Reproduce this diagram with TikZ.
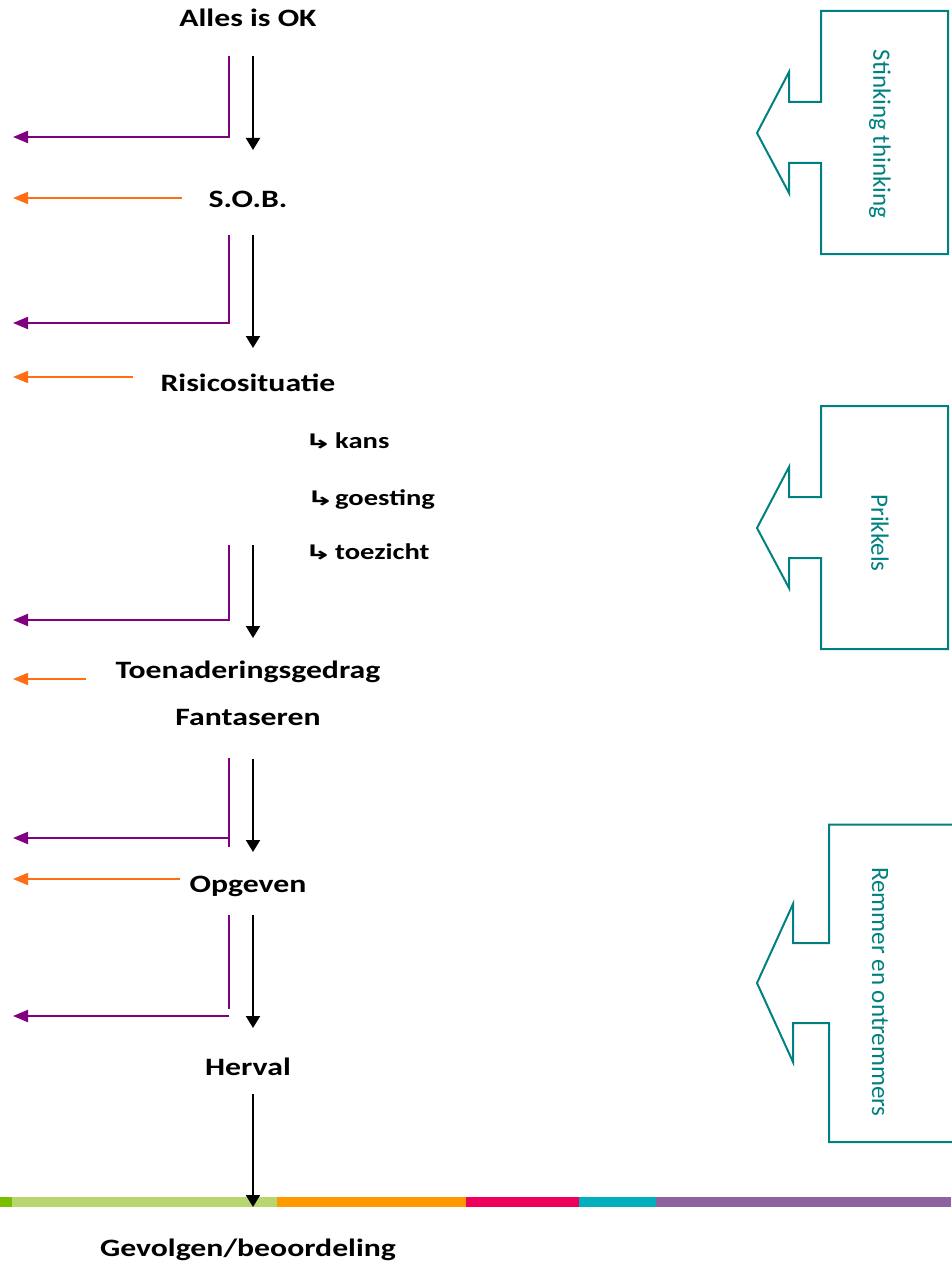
\documentclass[tikz,border=0pt]{standalone}
\usepackage{fontspec}
\usetikzlibrary{arrows.meta}
\newfontfamily\lblfont{Carlito}[FakeStretch=1.27]
\newfontfamily\callfont{Carlito}
\newfontfamily\dvfont{DejaVu Sans}[FakeStretch=1.7]
\definecolor{cpurple}{RGB}{128,0,128}
\definecolor{corange}{RGB}{255,110,20}
\definecolor{cteal}{RGB}{0,128,128}
\definecolor{bdkgreen}{RGB}{122,190,0}
\definecolor{bltgreen}{RGB}{183,214,112}
\definecolor{borange}{RGB}{255,153,0}
\definecolor{bpink}{RGB}{236,0,92}
\definecolor{bcyan}{RGB}{0,174,190}
\definecolor{bpurple}{RGB}{142,98,160}
\newcommand{\hookarr}{{\dvfont\bfseries\fontsize{20}{22}\selectfont ↳}}
\tikzset{
  lbl/.style={font=\lblfont\bfseries\fontsize{25}{30}\selectfont, inner sep=0pt, anchor=base},
  sublbl/.style={font=\lblfont\bfseries\fontsize{22.5}{27}\selectfont, inner sep=0pt, anchor=base west},
  calltext/.style={font=\callfont\fontsize{25}{30}\selectfont, text=cteal, rotate=-90, inner sep=0pt},
  flow/.style={draw=black, line width=2pt, -{Triangle[length=12pt,width=14pt]}},
  exitline/.style={draw=cpurple, line width=2pt},
  exitarrow/.style={draw=cpurple, line width=2pt, -{Triangle[length=15pt,width=12pt]}},
  backarrow/.style={draw=corange, line width=1.6pt, -{Triangle[length=15pt,width=12pt]}},
  callout/.style={draw=cteal, line width=2pt, line join=miter},
}
\begin{document}
\begin{tikzpicture}[x=1pt,y=-1pt]
\useasboundingbox (0,0) rectangle (951,1265);
% bottom bar
\fill[bdkgreen] (0,1197) rectangle (12,1207);
\fill[bltgreen] (12,1197) rectangle (277,1207);
\fill[borange] (277,1197) rectangle (466,1207);
\fill[bpink] (466,1197) rectangle (579,1207);
\fill[bcyan] (579,1197) rectangle (656,1207);
\fill[bpurple] (656,1197) rectangle (951,1207);

% labels
\node[lbl] (ok) at (248,27) {Alles is OK};
\node[lbl] (sob) at (248,208) {S.O.B.};
\node[lbl] (risico) at (248,391) {Risicosituatie};
\node[sublbl] (kans) at (304,448) {\makebox[31pt][l]{\hookarr}kans};
\node[sublbl] (goesting) at (306,505) {\makebox[29pt][l]{\hookarr}goesting};
\node[sublbl] (toezicht) at (304,559) {\makebox[31pt][l]{\hookarr}toezicht};
\node[lbl] (toen) at (248,678) {Toenaderingsgedrag};
\node[lbl] (fant) at (248,725) {Fantaseren};
\node[lbl] (opg) at (248,892) {Opgeven};
\node[lbl] (herval) at (248,1075) {Herval};
\node[lbl] (gevolg) at (248,1256) {Gevolgen/beoordeling};

% black flow arrows
\coordinate (b1s) at (253,56);   \coordinate (b1e) at (253,150);
\coordinate (b2s) at (253,235);  \coordinate (b2e) at (253,348);
\coordinate (b3s) at (253,545);  \coordinate (b3e) at (253,638);
\coordinate (b4s) at (253,759);  \coordinate (b4e) at (253,852);
\coordinate (b5s) at (253,915);  \coordinate (b5e) at (253,1028);
\coordinate (b6s) at (253,1094); \coordinate (b6e) at (253,1207);
\draw[flow] (b1s) -- (b1e);
\draw[flow] (b2s) -- (b2e);
\draw[flow] (b3s) -- (b3e);
\draw[flow] (b4s) -- (b4e);
\draw[flow] (b5s) -- (b5e);
\draw[flow] (b6s) -- (b6e);

% purple exits
\coordinate (p1s) at (229,56);  \coordinate (p1c) at (229,137); \coordinate (p1e) at (13,137);
\coordinate (p2s) at (229,235); \coordinate (p2c) at (229,323); \coordinate (p2e) at (13,323);
\coordinate (p3s) at (229,545); \coordinate (p3c) at (229,620); \coordinate (p3e) at (13,620);
\coordinate (p4s) at (229,758); \coordinate (p4b) at (229,847); \coordinate (p4c) at (229,838); \coordinate (p4e) at (13,838);
\coordinate (p5s) at (229,915); \coordinate (p5b) at (229,1009); \coordinate (p5c) at (229,1016); \coordinate (p5e) at (13,1016);
\draw[exitarrow] (p1s) -- (p1c) -- (p1e);
\draw[exitarrow] (p2s) -- (p2c) -- (p2e);
\draw[exitarrow] (p3s) -- (p3c) -- (p3e);
\draw[exitline] (p4s) -- (p4b);
\draw[exitarrow] (p4c) -- (p4e);
\draw[exitline] (p5s) -- (p5b);
\draw[exitarrow] (p5c) -- (p5e);

% orange back arrows
\coordinate (o1s) at (182,198); \coordinate (o1e) at (13,198);
\coordinate (o2s) at (133,377); \coordinate (o2e) at (13,377);
\coordinate (o3s) at (86,679);  \coordinate (o3e) at (13,679);
\coordinate (o4s) at (180,879); \coordinate (o4e) at (13,879);
\draw[backarrow] (o1s) -- (o1e);
\draw[backarrow] (o2s) -- (o2e);
\draw[backarrow] (o3s) -- (o3e);
\draw[backarrow] (o4s) -- (o4e);

% callouts
\draw[callout] (821,11) -- (948,11) -- (948,254) -- (821,254) -- (821,163) -- (789,163)
  -- (789,193) -- (757,133) -- (789,72) -- (789,102) -- (821,102) -- cycle;
\node[calltext] (stink) at (880,134) {Stinking thinking};

\draw[callout] (821,406) -- (948,406) -- (948,649) -- (821,649) -- (821,558) -- (789,558)
  -- (789,588) -- (757,528) -- (789,467) -- (789,497) -- (821,497) -- cycle;
\node[calltext] (prik) at (880,533) {Prikkels};

\draw[callout] (953,824.5) -- (829,824.5) -- (829,943) -- (793,943) -- (793,904) -- (757,983)
  -- (793,1062) -- (793,1023) -- (829,1023) -- (829,1142) -- (953,1142);
\node[calltext] (remmer) at (880,992) {Remmer en ontremmers};
\end{tikzpicture}
\end{document}
